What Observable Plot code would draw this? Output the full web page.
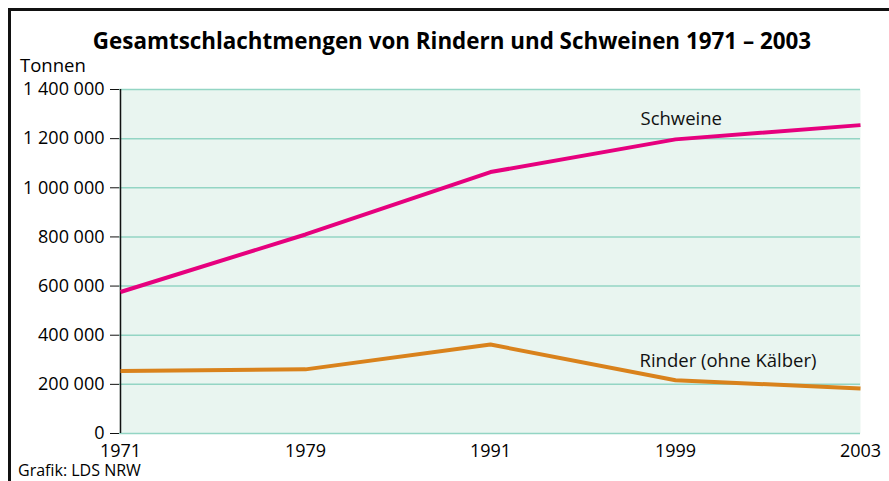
<!DOCTYPE html>
<html>
<head>
<meta charset="utf-8">
<script src="https://cdn.jsdelivr.net/npm/d3@7"></script>
<script src="https://cdn.jsdelivr.net/npm/@observablehq/plot@0.6"></script>
<style>
  html, body { margin: 0; padding: 0; background: #fff; }
  #wrap { position: relative; width: 889px; height: 481px; overflow: hidden; font-family: "Open Sans", "Noto Sans", sans-serif; color: #000; }
  #frame { position: absolute; left: 8px; top: 8px; width: 1000px; height: 1000px; border-left: 3px solid #111; border-top: 3px solid #111; box-sizing: border-box; }
  #title { position: absolute; left: 0; width: 904px; top: 26px; text-align: center; font-size: 22.4px; font-weight: 700; line-height: 30px; }
  #unit { position: absolute; left: 20px; top: 54px; font-size: 18.5px; line-height: 22px; }
  #caption { position: absolute; left: 18px; top: 461px; font-size: 16px; line-height: 18px; }
  #chart { position: absolute; left: 0; top: 0; }
</style>
</head>
<body>
<div id="wrap">
  <div id="frame"></div>
  <div id="title">Gesamtschlachtmengen von Rindern und Schweinen 1971 – 2003</div>
  <div id="unit">Tonnen</div>
  <div id="caption">Grafik: LDS NRW</div>
  <div id="chart"></div>
</div>
<script>
const years = ["1971", "1979", "1991", "1999", "2003"];
const schweine = [576000, 810000, 1064000, 1197000, 1255000];
const rinder = [254000, 261000, 362000, 217000, 183000];
const yTicks = [0, 200000, 400000, 600000, 800000, 1000000, 1200000, 1400000];
const seriesNames = ["Schweine", "Rinder (ohne Kälber)"];
const seriesColors = ["#e6007e", "#d9821c"];
const labelYears = ["1999", "1999"];
const labelValues = [1278000, 295000];

const fmt = d3.formatLocale({ thousands: " ", grouping: [3], decimal: ",", currency: ["", ""] }).format(",d");

const rows = [];
years.forEach((y, i) => {
  rows.push({ year: y, value: schweine[i], series: seriesNames[0] });
  rows.push({ year: y, value: rinder[i], series: seriesNames[1] });
});
const labels = seriesNames.map((s, i) => ({ text: s, year: labelYears[i], value: labelValues[i] }));

const chart = Plot.plot({
  width: 889,
  height: 481,
  marginLeft: 119,
  marginRight: 29,
  marginTop: 89,
  marginBottom: 48,
  style: { fontFamily: "'Open Sans', 'Noto Sans', sans-serif", fontSize: "18px", color: "#000", background: "transparent", overflow: "visible" },
  x: { type: "point", domain: years, padding: 0 },
  y: { domain: [0, 1400000] },
  color: { domain: seriesNames, range: seriesColors },
  marks: [
    Plot.frame({ fill: "#e9f5f0", stroke: "none" }),
    Plot.ruleY(yTicks, { stroke: "#93d5c4", strokeWidth: 1.5 }),
    Plot.ruleX([years[0]], { stroke: "#111", strokeWidth: 1.5 }),
    Plot.axisY({ ticks: yTicks, tickFormat: fmt, tickSize: 9, tickPadding: 6, stroke: "#111", fill: "#000", fontSize: 18, label: null }),
    Plot.axisX({ tickSize: 0, tickPadding: 11, fill: "#000", fontSize: 18, label: null }),
    Plot.lineY(rows, { x: "year", y: "value", z: "series", stroke: "series", strokeWidth: 4, strokeLinejoin: "round", strokeLinecap: "butt" }),
    Plot.text(labels.slice(0, 1), { x: "year", y: "value", text: "text", textAnchor: "start", dx: -35, fontSize: 18.5, fill: "#111" }),
    Plot.text(labels.slice(1), { x: "year", y: "value", text: "text", textAnchor: "start", dx: -36, fontSize: 18.5, fill: "#111" })
  ]
});
document.getElementById("chart").appendChild(chart);
</script>
</body>
</html>
